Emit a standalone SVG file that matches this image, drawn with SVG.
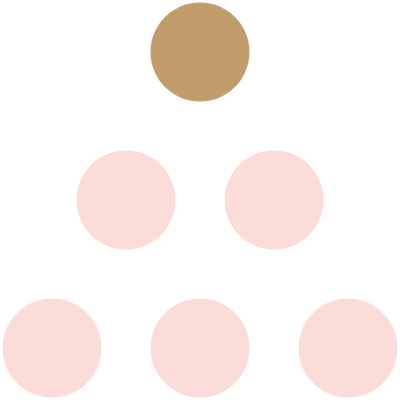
<svg xmlns="http://www.w3.org/2000/svg" width="400" height="400" viewBox="0 0 400 400">
<style>
.top{fill:#C19D6C}
.node{fill:#FBDCD8}
</style>
<rect width="400" height="400" fill="#FFFFFF"/>
<g id="connectors"></g>
<g id="n0"><circle class="top" cx="200" cy="52" r="49.5"/></g>
<g id="n1"><circle class="node" cx="126" cy="200" r="49.5"/></g>
<g id="n2"><circle class="node" cx="274" cy="200" r="49.5"/></g>
<g id="n3"><circle class="node" cx="52" cy="348" r="49.5"/></g>
<g id="n4"><circle class="node" cx="200" cy="348" r="49.5"/></g>
<g id="n5"><circle class="node" cx="348" cy="348" r="49.5"/></g>
</svg>
